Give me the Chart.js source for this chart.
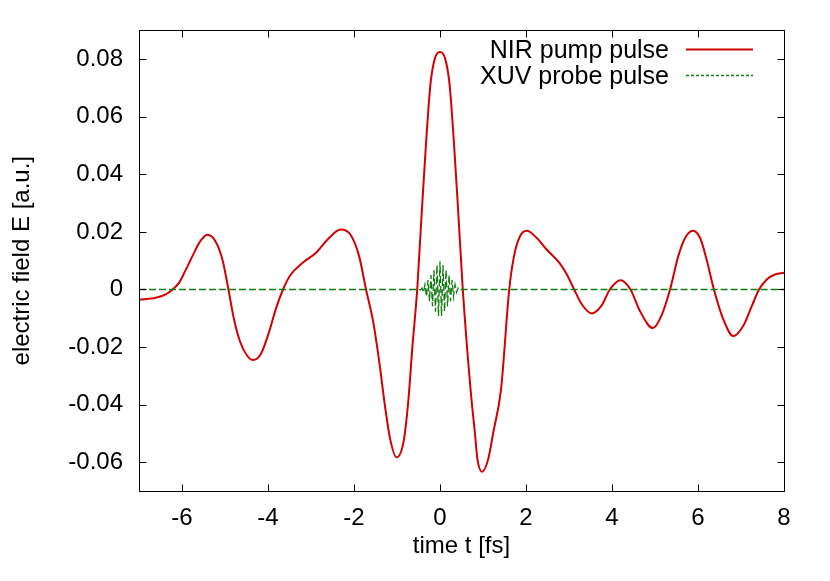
<!DOCTYPE html>
<html>
<head>
<meta charset="utf-8">
<script src="https://cdn.jsdelivr.net/npm/chart.js@4.4.1/dist/chart.umd.min.js"></script>
<style>
  html, body { margin: 0; padding: 0; background: #ffffff; }
  canvas { display: block; }
</style>
</head>
<body>
<canvas id="c" width="830" height="581"></canvas>
<script>
// ---- data ----
const nirLabel = 'NIR pump pulse';
const xuvLabel = 'XUV probe pulse';

const nirT = [-7.00, -6.61, -6.38, -6.22, -6.07, -5.91, -5.76, -5.60, -5.41, -5.22,
              -5.06, -4.92, -4.79, -4.64, -4.48, -4.35, -4.17, -3.98, -3.82, -3.65,
              -3.47, -3.20, -2.89, -2.58, -2.31, -2.08, -1.88, -1.72, -1.55, -1.41,
              -1.28, -1.16, -1.01, -0.85, -0.74, -0.64, -0.53, -0.43, -0.33, -0.22,
              -0.12, 0.00, 0.12, 0.22, 0.33, 0.43, 0.53, 0.71, 0.81, 0.87,
              0.98, 1.12, 1.24, 1.42, 1.61, 1.72, 1.86, 2.02, 2.25, 2.48,
              2.79, 2.95, 3.12, 3.30, 3.53, 3.76, 3.95, 4.20, 4.43, 4.65,
              4.95, 5.16, 5.35, 5.54, 5.70, 5.88, 6.05, 6.20, 6.37, 6.59,
              6.82, 7.05, 7.25, 7.42, 7.60, 7.79, 8.00];
const nirE = [-0.0035, -0.0029, -0.0017, 0.0000, 0.0023, 0.0069, 0.0115, 0.0162, 0.0190, 0.0167,
              0.0104, 0.0000, -0.0104, -0.0185, -0.0231, -0.0245, -0.0225, -0.0150, -0.0069, 0.0000,
              0.0052, 0.0092, 0.0127, 0.0179, 0.0208, 0.0190, 0.0115, 0.0000, -0.0115, -0.0254,
              -0.0404, -0.0519, -0.0583, -0.0531, -0.0392, -0.0196, 0.0000, 0.0254, 0.0496, 0.0716,
              0.0802, 0.0825, 0.0802, 0.0716, 0.0496, 0.0254, 0.0000, -0.0346, -0.0496, -0.0589,
              -0.0633, -0.0590, -0.0496, -0.0346, 0.0000, 0.0115, 0.0185, 0.0204, 0.0179, 0.0139,
              0.0090, 0.0052, 0.0000, -0.0052, -0.0083, -0.0055, 0.0000, 0.0032, 0.0000, -0.0075,
              -0.0134, -0.0087, 0.0000, 0.0115, 0.0179, 0.0204, 0.0179, 0.0104, 0.0000, -0.0104,
              -0.0162, -0.0127, -0.0058, 0.0000, 0.0035, 0.0052, 0.0058];

const xuvT = [-7.00, -0.49, -0.455, -0.42, -0.385, -0.35, -0.315, -0.28, -0.245, -0.21,
              -0.175, -0.14, -0.105, -0.07, -0.035, 0.00, 0.035, 0.07, 0.105, 0.14,
              0.175, 0.21, 0.245, 0.28, 0.315, 0.35, 0.385, 0.42, 0.455, 0.49, 8.00];
const xuvE = [0, 0, -0.0002, 0.0005, -0.0010, 0.0017, -0.0025, 0.0033, -0.0041, 0.0050,
              -0.0059, 0.0068, -0.0077, 0.0085, -0.0092, 0.0098, -0.0092, 0.0085, -0.0077, 0.0068,
              -0.0059, 0.0050, -0.0041, 0.0033, -0.0025, 0.0017, -0.0010, 0.0005, -0.0002, 0, 0];

const xTicks = [-6, -4, -2, 0, 2, 4, 6, 8];
const yTicks = [-0.06, -0.04, -0.02, 0, 0.02, 0.04, 0.06, 0.08];
const xTitle = 'time t [fs]';
const yTitle = 'electric field E [a.u.]';

// ---- styles ----
const FONT = "'Liberation Sans', Arial, Helvetica, sans-serif";
const RED = '#d20000';
const GREEN = '#137d13';

const toPoints = (xs, ys) => xs.map((x, i) => ({ x: x, y: ys[i] }));

const framePlugin = {
  id: 'frame',
  afterDraw(chart) {
    const { ctx, chartArea: a, scales } = chart;
    const L = Math.round(a.left) + 0.5, R = Math.round(a.right) + 0.5;
    const T = Math.round(a.top) + 0.5, B = Math.round(a.bottom) + 0.5;
    const len = 7;
    ctx.save();
    ctx.strokeStyle = '#000';
    ctx.lineWidth = 1;
    ctx.setLineDash([]);
    ctx.beginPath();
    scales.x.ticks.forEach(t => {
      const p = Math.round(scales.x.getPixelForValue(t.value)) + 0.5;
      ctx.moveTo(p, B); ctx.lineTo(p, B - len);
      ctx.moveTo(p, T); ctx.lineTo(p, T + len);
    });
    scales.y.ticks.forEach(t => {
      const p = Math.round(scales.y.getPixelForValue(t.value)) + 0.5;
      ctx.moveTo(L, p); ctx.lineTo(L + len, p);
      ctx.moveTo(R, p); ctx.lineTo(R - len, p);
    });
    ctx.stroke();
    ctx.strokeRect(L, T, R - L, B - T);

    // legend (gnuplot style: text right-aligned, sample line to the right)
    ctx.font = '25px ' + FONT;
    ctx.fillStyle = '#000';
    ctx.textAlign = 'right';
    ctx.textBaseline = 'alphabetic';
    const rows = [
      { ds: chart.data.datasets[0], y: 58, dash: [] },
      { ds: chart.data.datasets[1], y: 84, dash: [3, 2] }
    ];
    rows.forEach(r => {
      ctx.fillText(r.ds.label, 669, r.y);
      ctx.beginPath();
      ctx.strokeStyle = r.ds.borderColor;
      ctx.lineWidth = r.ds.borderWidth;
      ctx.setLineDash(r.dash);
      ctx.moveTo(686, r.y - 8.5);
      ctx.lineTo(753, r.y - 8.5);
      ctx.stroke();
    });
    ctx.restore();
  }
};

new Chart(document.getElementById('c'), {
  type: 'line',
  data: {
    datasets: [
      {
        label: nirLabel,
        data: toPoints(nirT, nirE),
        borderColor: RED,
        borderWidth: 2,
        pointRadius: 0,
        cubicInterpolationMode: 'monotone',
        fill: false,
        order: 1
      },
      {
        label: xuvLabel,
        data: toPoints(xuvT, xuvE),
        borderColor: GREEN,
        borderWidth: 1.3,
        borderDash: [7, 3],
        pointRadius: 0,
        tension: 0,
        fill: false,
        order: 0
      }
    ]
  },
  options: {
    responsive: false,
    devicePixelRatio: 1,
    animation: false,
    events: [],
    layout: { padding: { left: 0, right: 46, top: 30, bottom: 0 } },
    plugins: { legend: { display: false }, tooltip: { enabled: false } },
    scales: {
      x: {
        type: 'linear',
        min: -7, max: 8,
        grid: { display: false, drawTicks: false },
        border: { display: false },
        afterBuildTicks: s => { s.ticks = xTicks.map(v => ({ value: v })); },
        afterFit: s => { s.height = 90; },
        ticks: {
          color: '#000', padding: 13,
          font: { family: FONT, size: 24 },
          maxRotation: 0, autoSkip: false,
          callback: v => String(v)
        },
        title: {
          display: true, text: xTitle, color: '#000',
          font: { family: FONT, size: 24 },
          padding: { top: 0, bottom: 20 }
        }
      },
      y: {
        type: 'linear',
        min: -0.07, max: 0.09,
        grid: { display: false, drawTicks: false },
        border: { display: false },
        afterBuildTicks: s => { s.ticks = yTicks.map(v => ({ value: v })); },
        afterFit: s => { s.width = 139; },
        ticks: {
          color: '#000', padding: 16,
          font: { family: FONT, size: 24 },
          autoSkip: false,
          callback: v => (Math.abs(v) < 1e-9 ? '0' : v.toFixed(2))
        },
        title: {
          display: true, text: yTitle, color: '#000',
          font: { family: FONT, size: 24 },
          padding: { top: 8, bottom: 0 }
        }
      }
    }
  },
  plugins: [framePlugin]
});
</script>
</body>
</html>
